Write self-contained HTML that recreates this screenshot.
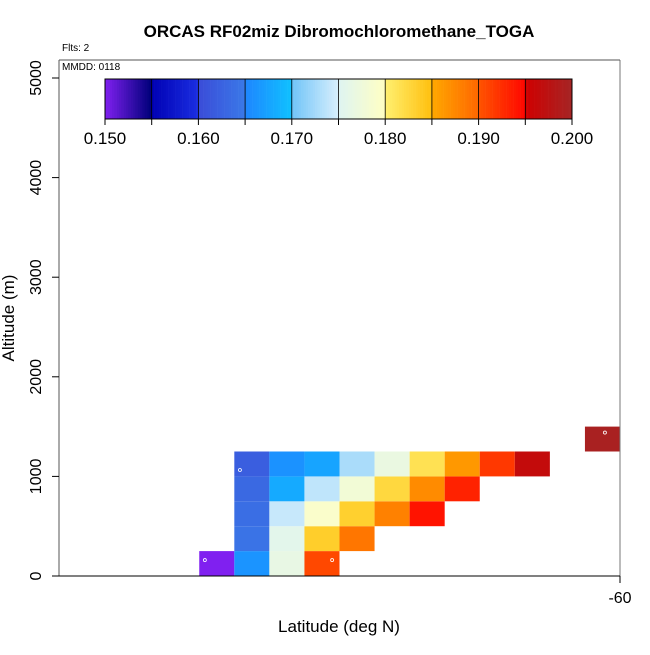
<!DOCTYPE html>
<html><head><meta charset="utf-8"><style>
body{margin:0;background:#fff}
svg text{font-family:"Liberation Sans",sans-serif}
</style></head><body>
<svg id="chart" width="650" height="650" xmlns="http://www.w3.org/2000/svg">
<text x="339" y="37" text-anchor="middle" font-size="17" font-weight="bold">ORCAS RF02miz Dibromochloromethane_TOGA</text>
<text x="62" y="51" font-size="10">Flts: 2</text>
<g id="plot"></g>
<g id="cbar"></g>
<text x="62" y="70" font-size="10">MMDD: 0118</text>
<text x="339" y="632" text-anchor="middle" font-size="17">Latitude (deg N)</text>
<text transform="translate(14,318) rotate(-90)" text-anchor="middle" font-size="17">Altitude (m)</text>
</svg>
<script>
const cellLats = [-71.5,-70.5,-69.5,-68.5, -70.5,-69.5,-68.5,-67.5, -70.5,-69.5,-68.5,-67.5,-66.5,-65.5, -70.5,-69.5,-68.5,-67.5,-66.5,-65.5,-64.5, -70.5,-69.5,-68.5,-67.5,-66.5,-65.5,-64.5,-63.5,-62.5, -60.5];
const cellAlts = [125,125,125,125, 375,375,375,375, 625,625,625,625,625,625, 875,875,875,875,875,875,875, 1125,1125,1125,1125,1125,1125,1125,1125,1125, 1375];
const cellValues = [0.150,0.1662,0.1765,0.1908, 0.1643,0.1757,0.1835,0.1888, 0.1638,0.1742,0.1792,0.1833,0.1880,0.1942, 0.1632,0.1680,0.1738,0.1780,0.1825,0.1872,0.1932, 0.1620,0.1660,0.1675,0.1728,0.1768,0.1815,0.1862,0.1918,0.1965, 0.1995];
const markerLats = [-71.84,-70.84,-68.21,-60.43];
const markerAlts = [160,1064,160,1440];
const yTicks = [0,1000,2000,3000,4000,5000];
const xTicks = [-60];
const cbarTicks = [0.150,0.160,0.170,0.180,0.190,0.200];

const X0=59,X1=620,Y0=576,Y1=78;
const latMin=-76,latMax=-60,altMax=5000;
const xs=v=>X0+(v-latMin)/(latMax-latMin)*(X1-X0);
const ys=v=>Y0-v/altMax*(Y0-Y1);
const NS="http://www.w3.org/2000/svg";
function mk(tag,attrs,parent){const e=document.createElementNS(NS,tag);for(const k in attrs)e.setAttribute(k,attrs[k]);parent.appendChild(e);return e;}
const stops=[[0.150,"#8020f0"],[0.1549,"#00007a"],[0.155,"#0000b4"],[0.1599,"#1a2ee0"],[0.160,"#3a4cd8"],[0.1649,"#3a78e8"],[0.165,"#1e86ff"],[0.1699,"#10c0ff"],[0.170,"#70c4f8"],[0.1749,"#d6eefc"],[0.175,"#def4f2"],[0.1799,"#ffffc4"],[0.180,"#fff070"],[0.1849,"#ffc010"],[0.185,"#ffa800"],[0.1899,"#ff6800"],[0.190,"#ff5400"],[0.1949,"#ff0800"],[0.195,"#d00000"],[0.200,"#a52525"]];
function hex(c){return [1,3,5].map(i=>parseInt(c.substr(i,2),16));}
function color(v){
  if(v<=stops[0][0])return stops[0][1];
  for(let i=1;i<stops.length;i++){if(v<=stops[i][0]){const a=stops[i-1],b=stops[i];const t=(v-a[0])/(b[0]-a[0]);const ca=hex(a[1]),cb=hex(b[1]);return "rgb("+ca.map((x,j)=>Math.round(x+(cb[j]-x)*t)).join(",")+")";}}
  return stops[stops.length-1][1];
}
const plot=document.getElementById('plot');
for(let i=0;i<cellValues.length;i++){
  const r=mk('rect',{x:xs(cellLats[i]-0.5),y:ys(cellAlts[i]+125),width:xs(cellLats[i]+0.5)-xs(cellLats[i]-0.5),height:ys(cellAlts[i]-125)-ys(cellAlts[i]+125),fill:color(cellValues[i])},plot);
  
  
}
for(let i=0;i<markerLats.length;i++){
  const c=mk('circle',{cx:xs(markerLats[i]),cy:ys(markerAlts[i]),r:1.5,fill:'none',stroke:'#fff','stroke-width':0.8},plot);
  
  
}
mk('line',{x1:X0,y1:60,x2:X0,y2:Y0,stroke:'#555'},plot);
mk('line',{x1:X1,y1:60,x2:X1,y2:Y0,stroke:'#777'},plot);
mk('line',{x1:X0,y1:60,x2:X1,y2:60,stroke:'#555'},plot);
mk('line',{x1:X0,y1:Y0,x2:X1,y2:Y0,stroke:'#000'},plot);
yTicks.forEach(t=>{
  mk('line',{x1:X0-7,y1:ys(t),x2:X0,y2:ys(t),stroke:'#000'},plot);
  const tx=mk('text',{transform:`translate(41,${ys(t)}) rotate(-90)`,'text-anchor':'middle','font-size':16},plot);
  tx.textContent=t;
  
  
});
xTicks.forEach(t=>{
  mk('line',{x1:xs(t),y1:Y0,x2:xs(t),y2:Y0+7,stroke:'#000'},plot);
  const tx=mk('text',{x:xs(t),y:603,'text-anchor':'middle','font-size':16},plot);
  tx.textContent=t;
  
  
});
const cb=document.getElementById('cbar');
const CB0=105,CB1=572,CBT=79,CBB=119,vmin=0.150,vmax=0.200;
const cx=v=>CB0+(v-vmin)/(vmax-vmin)*(CB1-CB0);
const N=200;
for(let i=0;i<N;i++){const v=vmin+(i+0.5)/N*(vmax-vmin);mk('rect',{x:CB0+i*(CB1-CB0)/N,y:CBT,width:(CB1-CB0)/N+0.3,height:CBB-CBT,fill:color(v)},cb);}
for(let i=1;i<10;i++){const v=vmin+i*0.005;mk('line',{x1:cx(v),y1:CBT,x2:cx(v),y2:CBB,stroke:'#000','stroke-width':0.8},cb);}
mk('rect',{x:CB0,y:CBT,width:CB1-CB0,height:CBB-CBT,fill:'none',stroke:'#000'},cb);
for(let i=0;i<=10;i++){const v=vmin+i*0.005;mk('line',{x1:cx(v),y1:CBB,x2:cx(v),y2:CBB+6,stroke:'#000'},cb);}
cbarTicks.forEach(t=>{
  const tx=mk('text',{x:cx(t),y:144,'text-anchor':'middle','font-size':17},cb);
  tx.textContent=t.toFixed(3);
  
  
});
</script>
</body></html>
